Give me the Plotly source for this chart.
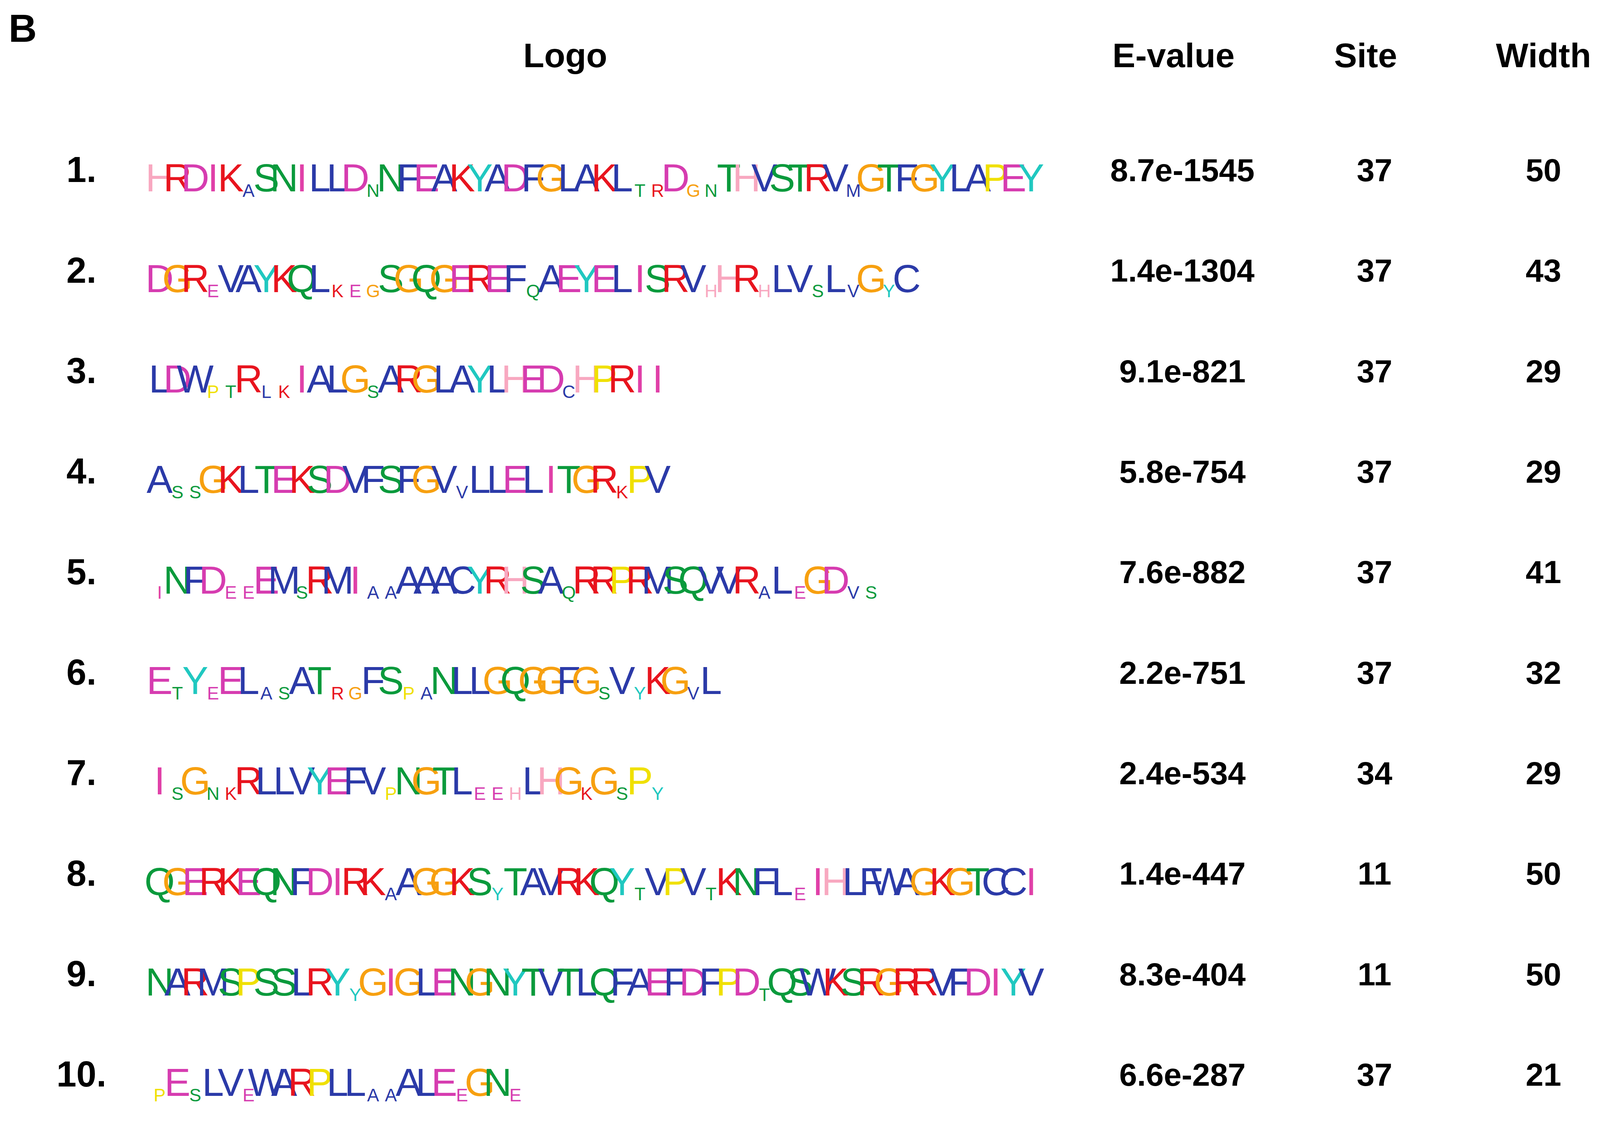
import plotly.graph_objects as go

# consensus per motif: uppercase = tall (conserved), lowercase = weak position
motifs = [
    "HRDIKaSNILLDnNFEAKYADFGLAKLtrDgnTHVSTRVmGTFGYLAPEY",
    "DGReVAYKQLkegSGQGEREFqAEYELISRVhHRhLVsLvGyC",
    "LDWptRlkIALGsARGLAYLHEDcHPRII",
    "AssGKLTEKSDVFSFGVvLLELITGRkPV",
    "iNFDeeEMsRMIaaAAACYRHSAqRRPRMSQVVRaLeGDvs",
    "EtYeELasATrgFSpaNLLGQGGFGsVyKGvL",
    "IsGnkRLLVYEFVpNGTLeehLHGkGsPy",
    "QGERKEQNFDIRKaAGGKSyTAVRKQYtVPVtKNFLeIHLFWAGKGTCCI",
    "NARMSPSSLRYyGIGLENGNYTVTLQFAEFDFPDtQSWKSRGRRVFDIYV",
    "pEsLVeWARPLLaaALEeGNe",
]
row_labels = ["1.", "2.", "3.", "4.", "5.", "6.", "7.", "8.", "9.", "10."]
evalues = ["8.7e-1545", "1.4e-1304", "9.1e-821", "5.8e-754", "7.6e-882",
           "2.2e-751", "2.4e-534", "1.4e-447", "8.3e-404", "6.6e-287"]
sites = ["37", "37", "37", "37", "37", "37", "34", "11", "11", "37"]
widths = ["50", "43", "29", "29", "41", "32", "29", "50", "50", "21"]

BLUE, GREEN, MAG, RED = "#2b3aa8", "#0a9a3c", "#d63cb0", "#e8141e"
aa_color = {}
for c in "ACFLVWM":
    aa_color[c] = BLUE
for c in "NQST":
    aa_color[c] = GREEN
for c in "DE":
    aa_color[c] = MAG
for c in "KR":
    aa_color[c] = RED
aa_color.update({"I": "#e040a8", "H": "#f8a8c0", "G": "#f7a010", "P": "#f0e000", "Y": "#20c8c0"})

fig = go.Figure()
FONT = "Liberation Sans Narrow, Liberation Sans, Arial"

for r, m in enumerate(motifs, start=1):
    xs = [i + 0.5 for i in range(len(m))]
    txt = [c.upper() for c in m]
    sizes = [100 if c.isupper() else 46 for c in m]
    cols = [aa_color.get(c.upper(), BLUE) for c in m]
    fig.add_trace(go.Scatter(
        x=xs, y=[r + 0.33] * len(m), mode="text", text=txt,
        textposition="top center",
        textfont=dict(family=FONT, size=sizes, color=cols),
        hoverinfo="skip", showlegend=False))

bold = dict(family="Liberation Sans, Arial", color="black")
n = len(motifs)
rows = [r + 0.05 for r in range(1, n + 1)]
fig.add_trace(go.Scatter(x=[-3.9] * n, y=rows, mode="text", text=[f"<b>{t}</b>" for t in row_labels],
                         textfont=dict(size=92, **bold), showlegend=False, hoverinfo="skip"))
fig.add_trace(go.Scatter(x=[58.0] * n, y=rows, mode="text", text=[f"<b>{t}</b>" for t in evalues],
                         textfont=dict(size=82, **bold), showlegend=False, hoverinfo="skip"))
fig.add_trace(go.Scatter(x=[68.8] * n, y=rows, mode="text", text=[f"<b>{t}</b>" for t in sites],
                         textfont=dict(size=82, **bold), showlegend=False, hoverinfo="skip"))
fig.add_trace(go.Scatter(x=[78.3] * n, y=rows, mode="text", text=[f"<b>{t}</b>" for t in widths],
                         textfont=dict(size=82, **bold), showlegend=False, hoverinfo="skip"))

headers = ["Logo", "E-value", "Site", "Width"]
fig.add_trace(go.Scatter(x=[23.3, 57.5, 68.3, 78.3], y=[-0.09] * 4, mode="text",
                         text=[f"<b>{h}</b>" for h in headers],
                         textfont=dict(size=88, **bold), showlegend=False, hoverinfo="skip"))

fig.add_annotation(x=0.003, y=0.998, xref="paper", yref="paper", text="<b>B</b>",
                   showarrow=False, xanchor="left", yanchor="top",
                   font=dict(size=100, **bold))

fig.update_xaxes(range=[-8.3, 81.3], visible=False)
fig.update_yaxes(range=[10.48, -0.642], visible=False)
fig.update_layout(autosize=True, margin=dict(l=0, r=0, t=0, b=0),
                  plot_bgcolor="white", paper_bgcolor="white")
fig.write_html("out.html")
